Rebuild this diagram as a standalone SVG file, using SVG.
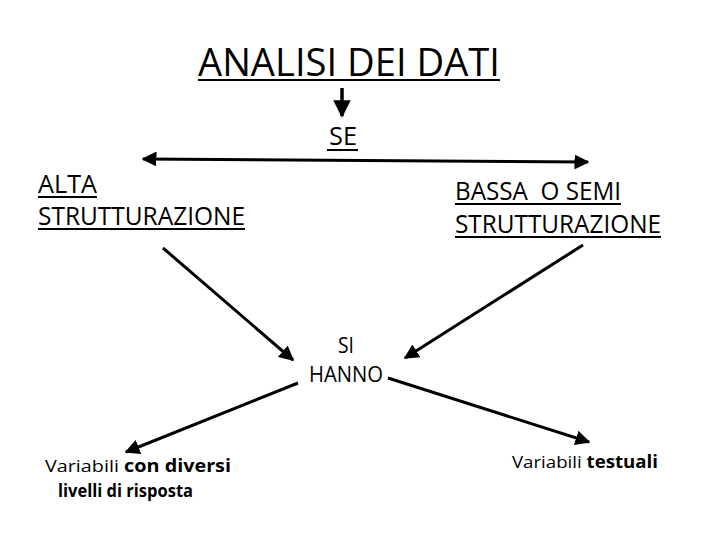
<svg xmlns="http://www.w3.org/2000/svg" width="720" height="540" viewBox="0 0 720 540">
<style>
text{font-family:"Open Sans","Noto Sans","Liberation Sans",sans-serif;fill:#000}
.t28{font-size:25px}
.t24{font-size:21px}
.t18{font-size:17px}
.b{font-weight:bold}
.ul{stroke:#000;stroke-width:2}
.c{stroke:#000;stroke-width:3;fill:none}
</style>
<defs>
<marker id="ah" viewBox="0 0 10 10" refX="9" refY="5" markerWidth="5" markerHeight="5" orient="auto-start-reverse" markerUnits="strokeWidth">
<path d="M0,0 L10,5 L0,10 Z" fill="#000"/>
</marker>
</defs>
<rect width="720" height="540" fill="#fff"/>
<g id="title">
<text x="198" y="76" style="font-size:38px" textLength="302" lengthAdjust="spacingAndGlyphs">ANALISI DEI DATI</text>
<line class="ul" x1="198" y1="80" x2="500" y2="80"/>
</g>
<g id="se">
<text x="329" y="145" class="t28" textLength="28" lengthAdjust="spacingAndGlyphs">SE</text>
<line class="ul" x1="327" y1="150" x2="358" y2="150"/>
</g>
<g id="alta">
<text x="38" y="193" class="t28" textLength="59" lengthAdjust="spacingAndGlyphs">ALTA</text>
<line class="ul" x1="38" y1="197" x2="97" y2="197"/>
<text x="38" y="225" class="t28" textLength="207" lengthAdjust="spacingAndGlyphs">STRUTTURAZIONE</text>
<line class="ul" x1="38" y1="229" x2="245" y2="229"/>
</g>
<g id="bassa">
<text x="455" y="200" class="t28" textLength="166" lengthAdjust="spacingAndGlyphs" xml:space="preserve">BASSA  O SEMI</text>
<line class="ul" x1="455" y1="204" x2="621" y2="204"/>
<text x="455" y="233" class="t28" textLength="206" lengthAdjust="spacingAndGlyphs">STRUTTURAZIONE</text>
<line class="ul" x1="455" y1="237" x2="661" y2="237"/>
</g>
<g id="sihanno">
<text x="338" y="353" class="t24" textLength="16" lengthAdjust="spacingAndGlyphs">SI</text>
<text x="309" y="382" class="t24" textLength="74" lengthAdjust="spacingAndGlyphs">HANNO</text>
</g>
<g id="varlivelli">
<text x="45" y="472" class="t18" textLength="186" lengthAdjust="spacingAndGlyphs">Variabili <tspan class="b">con diversi</tspan></text>
<text x="58" y="497" class="t18 b" textLength="135" lengthAdjust="spacingAndGlyphs">livelli di risposta</text>
</g>
<g id="vartestuali">
<text x="512" y="468" class="t18" textLength="146" lengthAdjust="spacingAndGlyphs">Variabili <tspan class="b">testuali</tspan></text>
</g>
<g id="connectors">
<line class="c" x1="342" y1="88" x2="342" y2="116" style="stroke-width:3.5" marker-end="url(#ah)"/>
<line class="c" x1="143" y1="159" x2="588" y2="162" marker-start="url(#ah)" marker-end="url(#ah)"/>
<line class="c" x1="163" y1="248" x2="293" y2="360" marker-end="url(#ah)"/>
<line class="c" x1="583" y1="245" x2="405" y2="358" marker-end="url(#ah)"/>
<line class="c" x1="298" y1="383" x2="126" y2="452" marker-end="url(#ah)"/>
<line class="c" x1="388" y1="378" x2="589" y2="442" marker-end="url(#ah)"/>
</g>
</svg>
